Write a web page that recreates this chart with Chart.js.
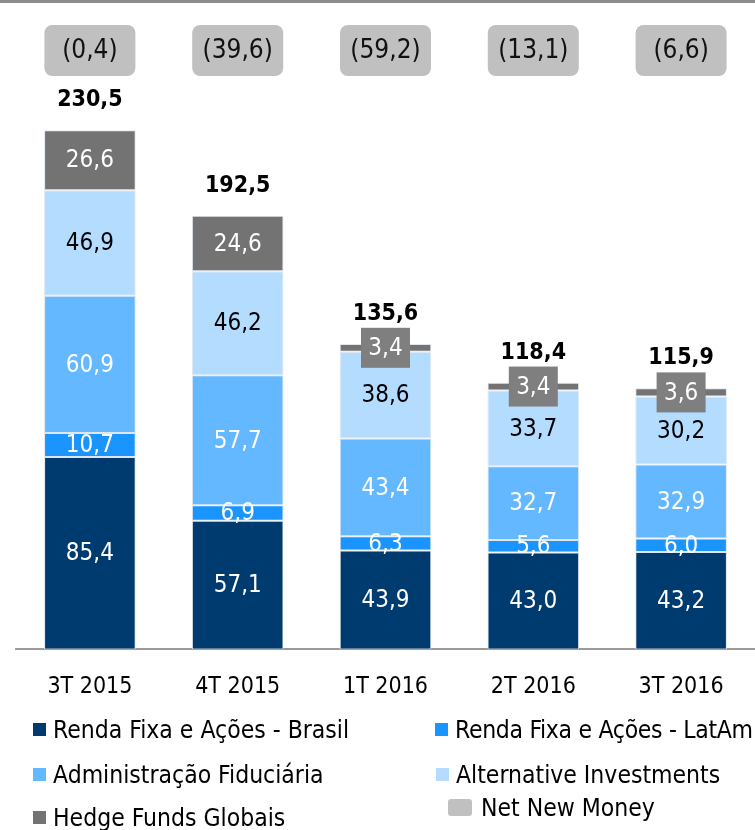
<!DOCTYPE html>
<html>
<head>
<meta charset="utf-8">
<script src="https://cdn.jsdelivr.net/npm/chart.js@4/dist/chart.umd.min.js"></script>
<style>
  html, body { margin: 0; padding: 0; background: #fff; }
  #wrap { position: relative; width: 755px; height: 830px; overflow: hidden;
          font-family: 'Liberation Sans Narrow', 'DejaVu Sans Condensed', 'Noto Sans', sans-serif; }
  #topline { position: absolute; left: 0; top: 0; width: 755px; height: 3px; background: #8c8c8c; }
  canvas { position: absolute; left: 0; top: 0; }
  .leg { position: absolute; font-size: 24.5px; color: #000; white-space: nowrap; line-height: 28px; }
  .leg i { display: inline-block; width: 13px; height: 13px; margin-right: 7px; vertical-align: 2px; }
  .leg i.nnm { width: 24px; height: 17px; border-radius: 3px; margin-right: 9px; vertical-align: 0; }
</style>
</head>
<body>
<div id="wrap">
  <canvas id="chart" width="755" height="830"></canvas>
  <div id="topline"></div>
  <div class="leg" style="left:33px;top:716px"><i style="background:#003b6f"></i>Renda Fixa e Ações - Brasil</div>
  <div class="leg" style="left:435px;top:716px;letter-spacing:-0.3px"><i style="background:#1a94ff"></i>Renda Fixa e Ações - LatAm</div>
  <div class="leg" style="left:33px;top:761px"><i style="background:#63b8ff"></i>Administração Fiduciária</div>
  <div class="leg" style="left:436px;top:761px"><i style="background:#b3dcff"></i>Alternative Investments</div>
  <div class="leg" style="left:33px;top:804px"><i style="background:#737373"></i>Hedge Funds Globais</div>
  <div class="leg" style="left:448px;top:794px"><i class="nnm" style="background:#c0c0c0"></i>Net New Money</div>
</div>
<script>
// dados do gráfico
const categorias = ['3T 2015', '4T 2015', '1T 2016', '2T 2016', '3T 2016'];
const brasil = [85.4, 57.1, 43.9, 43.0, 43.2];
const latam = [10.7, 6.9, 6.3, 5.6, 6.0];
const fiduciaria = [60.9, 57.7, 43.4, 32.7, 32.9];
const alternative = [46.9, 46.2, 38.6, 33.7, 30.2];
const hedge = [26.6, 24.6, 3.4, 3.4, 3.6];
const totais = [230.5, 192.5, 135.6, 118.4, 115.9];
const netNewMoney = [-0.4, -39.6, -59.2, -13.1, -6.6];

const FONT = "'Liberation Sans Narrow', 'DejaVu Sans Condensed', 'Noto Sans', sans-serif";

// formato brasileiro com vírgula
function fmt(v) {
    return Math.abs(v).toFixed(1).replace('.', ',');
}

// rótulos dentro das barras, totais e caixas de Net New Money
const labelsPlugin = {
    id: 'labelsPlugin',
    afterDatasetsDraw(chart) {
        const ctx = chart.ctx;
        const xs = chart.scales.x;
        const ys = chart.scales.y;
        ctx.save();
        ctx.textAlign = 'center';
        ctx.textBaseline = 'middle';

        chart.data.datasets.forEach((ds, di) => {
            const meta = chart.getDatasetMeta(di);
            meta.data.forEach((bar, i) => {
                const v = ds.data[i];
                const cy = (bar.y + bar.base) / 2;
                if (ds.smallBox && v < 10) {
                    ctx.fillStyle = '#7f7f7f';
                    ctx.fillRect(bar.x - 24.5, cy - 20, 49, 40);
                }
                ctx.font = '24px ' + FONT;
                ctx.fillStyle = ds.labelColor;
                ctx.fillText(fmt(v), bar.x, cy + 1);
            });
        });

        // totais em negrito
        ctx.font = 'bold 23px ' + FONT;
        ctx.fillStyle = '#000';
        totais.forEach((t, i) => {
            ctx.fillText(fmt(t), xs.getPixelForValue(i), ys.getPixelForValue(t) - 30);
        });

        // caixas de Net New Money
        netNewMoney.forEach((n, i) => {
            const cx = xs.getPixelForValue(i);
            ctx.fillStyle = '#c0c0c0';
            ctx.beginPath();
            ctx.roundRect(cx - 45.5, 25, 91, 51, 8);
            ctx.fill();
            ctx.fillStyle = '#111';
            ctx.font = '26px ' + FONT;
            ctx.fillText(n < 0 ? '(' + fmt(n) + ')' : fmt(n), cx, 51);
        });
        ctx.restore();
    }
};

function serie(label, data, color, labelColor, extra) {
    return Object.assign({
        label: label,
        data: data,
        backgroundColor: color,
        borderColor: '#dfe6ee',
        borderWidth: 1,
        borderSkipped: false,
        labelColor: labelColor,
        barPercentage: 0.62,
        categoryPercentage: 1.0
    }, extra || {});
}

new Chart(document.getElementById('chart'), {
    type: 'bar',
    data: {
        labels: categorias,
        datasets: [
            serie('Renda Fixa e Ações - Brasil', brasil, '#003b6f', '#fff'),
            serie('Renda Fixa e Ações - LatAm', latam, '#1a94ff', '#fff'),
            serie('Administração Fiduciária', fiduciaria, '#63b8ff', '#fff'),
            serie('Alternative Investments', alternative, '#b3dcff', '#000'),
            serie('Hedge Funds Globais', hedge, '#737373', '#fff', { smallBox: true })
        ]
    },
    options: {
        responsive: false,
        animation: false,
        layout: { padding: { top: 30, left: 16, right: 0, bottom: 105 } },
        plugins: {
            legend: { display: false },
            tooltip: { enabled: false }
        },
        scales: {
            x: {
                stacked: true,
                grid: { display: false, drawTicks: false },
                border: { display: true, color: '#9a9a9a', width: 2 },
                ticks: { color: '#000', font: { size: 23, family: FONT }, padding: 24 }
            },
            y: {
                stacked: true,
                display: false,
                min: 0,
                max: 275
            }
        }
    },
    plugins: [labelsPlugin]
});
</script>
</body>
</html>
